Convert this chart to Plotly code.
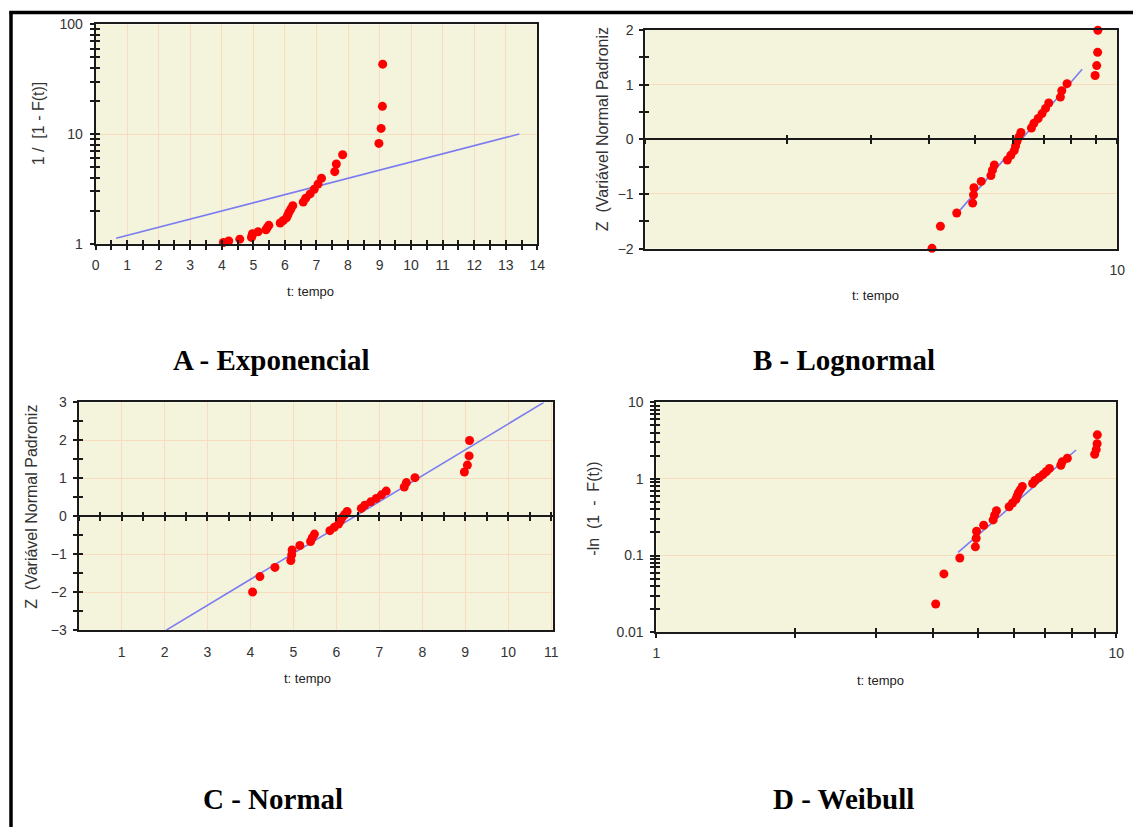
import plotly.graph_objects as go

# ---------------- data ----------------
# 30 failure times (t: tempo) with their median-rank plotting positions
t_tempo = [4.05, 4.22, 4.57, 4.94, 4.96, 4.97, 5.15, 5.40, 5.44, 5.49,
           5.85, 5.95, 6.05, 6.09, 6.13, 6.19, 6.25, 6.58, 6.66, 6.80,
           6.93, 7.05, 7.16, 7.58, 7.63, 7.83, 8.98, 9.05, 9.09, 9.10]
# Z (standard normal variate) - panels B and C
z_normal = [-1.995, -1.590, -1.348, -1.167, -1.017, -0.887, -0.771, -0.664, -0.565, -0.470,
            -0.380, -0.293, -0.207, -0.124, -0.041, 0.041, 0.124, 0.207, 0.293, 0.380,
            0.470, 0.565, 0.664, 0.771, 0.887, 1.017, 1.167, 1.348, 1.590, 1.995]
# 1 / [1 - F(t)] - panel A
inv_reliab = [1.024, 1.059, 1.098, 1.139, 1.183, 1.231, 1.283, 1.339, 1.401, 1.469,
              1.543, 1.626, 1.718, 1.820, 1.936, 2.068, 2.219, 2.394, 2.598, 2.841,
              3.134, 3.494, 3.948, 4.537, 5.333, 6.468, 8.216, 11.26, 17.88, 43.43]
# -ln(1 - F(t)) - panel D
cum_hazard = [0.0233, 0.0575, 0.0930, 0.1298, 0.168, 0.2076, 0.249, 0.292, 0.337, 0.384,
              0.434, 0.486, 0.541, 0.599, 0.661, 0.727, 0.797, 0.873, 0.955, 1.044,
              1.142, 1.251, 1.373, 1.512, 1.674, 1.867, 2.106, 2.421, 2.884, 3.771]

# fitted lines (end points)
fit_a_t = [0.65, 13.43]
fit_a_y = [1.12, 10.0]
fit_b_t = [4.64, 8.43]
fit_b_z = [-1.30, 1.28]
fit_c_t = [2.04, 10.83]
fit_c_z = [-3.0, 3.0]
fit_d_t = [4.53, 8.18]
fit_d_y = [0.110, 2.39]

# tick labels
ticks_a_x = list(range(0, 15))
ticks_a_y = [1, 10, 100]
ticks_b_x = [10]
ticks_b_y = [-2, -1, 0, 1, 2]
ticks_c_x = list(range(1, 12))
ticks_c_y = [-3, -2, -1, 0, 1, 2, 3]
ticks_d_x = [1, 10]
ticks_d_y = [0.01, 0.1, 1, 10]
ticks_d_y_text = ["0.01", "0.1", "1", "10"]

panel_titles = ["A - Exponencial", "B - Lognormal", "C - Normal", "D - Weibull"]
x_title = "t: tempo"
y_title_a = "1 /  [1 - F(t)]"
y_title_z = "Z  (Variável Normal Padroniz"
y_title_d = "-ln  (1  -  F(t))"

# ---------------- styling ----------------
OFF = 8                      # default page margin around the figure
# screen -> page calibration
SX, BX = 0.988, 4.6
SY, BY = 0.982, 7.2
W, H = 1142, 827             # figure size covering the whole photographed area
BG = "#F4F3DB"
GRID = "#F8DCC0"
LINE = "#1a1a1a"
RED = "#FF0000"
BLUE = "#7B7BF2"
SANS = "Liberation Sans, Arial, sans-serif"
SERIF = "Liberation Serif, Times New Roman, serif"
TF = dict(family=SANS, size=14, color="#333333")


def px(x):
    return ((x - BX) / SX - OFF) / W


def py(y):
    return 1 - ((y - BY) / SY - OFF) / H


def minor_log(lo, hi):
    vals = []
    for e in range(lo, hi):
        for m in range(2, 10):
            vals.append(m * 10 ** e)
    return vals


def clampd(a, b):
    return [max(0.0, min(1.0, a)), max(0.0, min(1.0, b))]


DA_x, DA_y = clampd(px(96), px(537)), clampd(py(243), py(23.5))
DB_x, DB_y = clampd(px(645), px(1116)), clampd(py(248), py(29))
DC_x, DC_y = clampd(px(79), px(553)), clampd(py(630), py(402))
DD_x, DD_y = clampd(px(656), px(1115)), clampd(py(632), py(402))

RA_x, RA_y = [0, 14], [0, 2]
RB_x, RB_y = [0, 1], [-2, 2]
RC_x, RC_y = [0, 11.05], [-3, 3]
RD_x, RD_y = [0, 1], [-2, 1]

TK = dict(tickcolor=LINE, tickwidth=1.5, ticklen=4)


def frame(**kw):
    d = dict(showline=True, linecolor=LINE, linewidth=2, mirror=True,
             zeroline=False, tickfont=TF)
    d.update(kw)
    return d


def tickonly(**kw):
    d = dict(showline=False, showgrid=False, zeroline=False, showticklabels=False)
    d.update(kw)
    return d


def minor_lin(dtick, side):
    return dict(tickmode="linear", tick0=0, dtick=dtick, ticks=side, showgrid=False, **TK)


def minor_vals(vals, side):
    return dict(tickmode="array", tickvals=vals, ticks=side, showgrid=False, **TK)


zeroB = DB_y[0] + (0 - RB_y[0]) / (RB_y[1] - RB_y[0]) * (DB_y[1] - DB_y[0])
zeroC = DC_y[0] + (0 - RC_y[0]) / (RC_y[1] - RC_y[0]) * (DC_y[1] - DC_y[0])

layout = dict(
    width=W, height=H,
    margin=dict(l=0, r=0, t=0, b=0),
    paper_bgcolor="white", plot_bgcolor=BG,
    showlegend=False,
    # ---- A ----
    xaxis=frame(domain=DA_x, anchor="y", range=RA_x, tickmode="array", tickvals=ticks_a_x,
                ticks="outside", **TK, minor=minor_lin(0.5, "outside"),
                showgrid=True, gridcolor=GRID, gridwidth=1, ticklabelstandoff=4),
    xaxis5=tickonly(overlaying="x", anchor="y", domain=DA_x, range=RA_x, tickmode="array",
                    tickvals=ticks_a_x, ticks="inside", **TK, minor=minor_lin(0.5, "inside")),
    yaxis=frame(domain=DA_y, anchor="x", type="log", range=RA_y, tickmode="array",
                tickvals=ticks_a_y, ticktext=[str(v) for v in ticks_a_y],
                ticks="outside", **TK, minor=minor_vals(minor_log(0, 2), "outside"),
                showgrid=True, gridcolor=GRID, gridwidth=1, ticklabelstandoff=4),
    yaxis5=tickonly(overlaying="y", anchor="x", domain=DA_y, type="log", range=RA_y,
                    tickmode="array", tickvals=ticks_a_y, ticks="inside", **TK,
                    minor=minor_vals(minor_log(0, 2), "inside")),
    # ---- B ----
    xaxis2=frame(domain=DB_x, anchor="y2", type="log", range=RB_x, tickmode="array",
                 tickvals=ticks_b_x, ticktext=["10"], ticks="", showgrid=False,
                 ticklabelstandoff=8),
    xaxis6=tickonly(overlaying="x2", anchor="free", position=zeroB, type="log", range=RB_x,
                    tickmode="array", tickvals=list(range(1, 11)), ticks="outside", **TK,
                    showline=True, linecolor=LINE, linewidth=2),
    xaxis7=tickonly(overlaying="x2", anchor="free", position=zeroB, type="log", range=RB_x,
                    tickmode="array", tickvals=list(range(1, 11)), ticks="inside", **TK),
    yaxis2=frame(domain=DB_y, anchor="x2", range=RB_y, tickmode="array", tickvals=ticks_b_y,
                 ticks="outside", **TK, minor=minor_lin(0.5, "outside"),
                 showgrid=True, gridcolor=GRID, gridwidth=1, ticklabelstandoff=3),
    yaxis6=tickonly(overlaying="y2", anchor="x2", domain=DB_y, range=RB_y, tickmode="array",
                    tickvals=ticks_b_y, ticks="inside", **TK, minor=minor_lin(0.5, "inside")),
    # ---- C ----
    xaxis3=frame(domain=DC_x, anchor="y3", range=RC_x, tickmode="array", tickvals=ticks_c_x,
                 ticks="", showgrid=True, gridcolor=GRID, gridwidth=1, ticklabelstandoff=8),
    xaxis8=tickonly(overlaying="x3", anchor="free", position=zeroC, range=RC_x,
                    tickmode="linear", tick0=0, dtick=0.5, ticks="outside", **TK,
                    showline=True, linecolor=LINE, linewidth=2),
    xaxis9=tickonly(overlaying="x3", anchor="free", position=zeroC, range=RC_x,
                    tickmode="linear", tick0=0, dtick=0.5, ticks="inside", **TK),
    yaxis3=frame(domain=DC_y, anchor="x3", range=RC_y, tickmode="array", tickvals=ticks_c_y,
                 ticks="outside", **TK, minor=minor_lin(0.5, "outside"),
                 showgrid=True, gridcolor=GRID, gridwidth=1, ticklabelstandoff=3),
    yaxis7=tickonly(overlaying="y3", anchor="x3", domain=DC_y, range=RC_y, tickmode="array",
                    tickvals=ticks_c_y, ticks="inside", **TK, minor=minor_lin(0.5, "inside")),
    # ---- D ----
    xaxis4=frame(domain=DD_x, anchor="y4", type="log", range=RD_x, tickmode="array",
                 tickvals=ticks_d_x, ticktext=[str(v) for v in ticks_d_x], ticks="outside", **TK,
                 minor=minor_vals(minor_log(0, 1), "outside"), showgrid=False,
                 ticklabelstandoff=3),
    xaxis10=tickonly(overlaying="x4", anchor="y4", domain=DD_x, type="log", range=RD_x,
                     tickmode="array", tickvals=ticks_d_x, ticks="inside", **TK,
                     minor=minor_vals(minor_log(0, 1), "inside")),
    yaxis4=frame(domain=DD_y, anchor="x4", type="log", range=RD_y, tickmode="array",
                 tickvals=ticks_d_y, ticktext=ticks_d_y_text, ticks="outside", **TK,
                 minor=minor_vals(minor_log(-2, 1), "outside"),
                 showgrid=True, gridcolor=GRID, gridwidth=1, ticklabelstandoff=4),
    yaxis8=tickonly(overlaying="y4", anchor="x4", domain=DD_y, type="log", range=RD_y,
                    tickmode="array", tickvals=ticks_d_y, ticks="inside", **TK,
                    minor=minor_vals(minor_log(-2, 1), "inside")),
)

fig = go.Figure(layout=layout)

# empty traces so every overlay axis gets its subplot
for xa, ya in [("x5", "y"), ("x", "y5"), ("x6", "y2"), ("x7", "y2"), ("x2", "y6"),
               ("x8", "y3"), ("x9", "y3"), ("x3", "y7"), ("x10", "y4"), ("x4", "y8")]:
    fig.add_trace(go.Scatter(x=[], y=[], xaxis=xa, yaxis=ya, mode="markers",
                             hoverinfo="skip", showlegend=False))

panels = [
    ("x", "y", fit_a_t, fit_a_y, inv_reliab),
    ("x2", "y2", fit_b_t, fit_b_z, z_normal),
    ("x3", "y3", fit_c_t, fit_c_z, z_normal),
    ("x4", "y4", fit_d_t, fit_d_y, cum_hazard),
]
for xa, ya, ft, fy, yvals in panels:
    fig.add_trace(go.Scatter(x=ft, y=fy, xaxis=xa, yaxis=ya, mode="lines",
                             line=dict(color=BLUE, width=1.6), cliponaxis=False))
    fig.add_trace(go.Scatter(x=t_tempo, y=yvals, xaxis=xa, yaxis=ya, mode="markers",
                             marker=dict(color=RED, size=9, line=dict(width=0)),
                             cliponaxis=False))

annotations = []
title_pos = [(272, 360), (843, 360), (273, 799), (843, 799)]
for txt, (x, y) in zip(panel_titles, title_pos):
    annotations.append(dict(text="<b>" + txt + "</b>", x=px(x), y=py(y), xref="paper",
                            yref="paper", showarrow=False, xanchor="center", yanchor="middle",
                            font=dict(family=SERIF, size=29, color="black")))
for (x, y) in [(311, 291), (875, 295), (308, 678), (880, 680)]:
    annotations.append(dict(text=x_title, x=px(x), y=py(y), xref="paper", yref="paper",
                            showarrow=False, xanchor="center", yanchor="middle",
                            font=dict(family=SANS, size=13, color="#222222")))
for txt, (x, y) in [(y_title_a, (39, 123)), (y_title_z, (602, 128)),
                    (y_title_z, (32, 507)), (y_title_d, (593, 508))]:
    annotations.append(dict(text=txt, x=px(x), y=py(y), xref="paper", yref="paper",
                            showarrow=False, xanchor="center", yanchor="middle",
                            textangle=-90,
                            font=dict(family=SANS, size=16, color="#333333")))
fig.update_layout(annotations=annotations)

# outer page frame
fig.add_shape(type="line", xref="paper", yref="paper", x0=px(10), x1=1, y0=py(11.5), y1=py(11.5),
              line=dict(color="black", width=3.5))
fig.add_shape(type="line", xref="paper", yref="paper", x0=px(11.5), x1=px(11.5), y0=py(10), y1=0,
              line=dict(color="black", width=3.5))

fig.write_html("out.html")
